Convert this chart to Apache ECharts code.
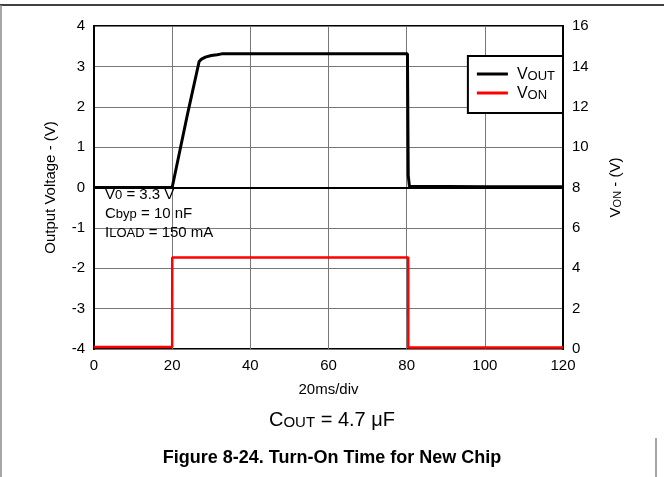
<!DOCTYPE html>
<html>
<head>
<meta charset="utf-8">
<script src="https://cdn.jsdelivr.net/npm/echarts@6/dist/echarts.min.js"></script>
<style>
html,body{margin:0;padding:0;background:#fff;}
#chart{width:664px;height:477px;}
</style>
</head>
<body>
<div id="chart"></div>
<script>
// ---- data ----
var voutTime = [0, 20, 20.2, 24.0, 26.9, 27.5, 28.5, 30, 31.5, 32.7, 50, 80.2, 80.4, 80.7, 100, 120];
var voutVals = [0, 0, 0, 1.85, 3.12, 3.18, 3.23, 3.27, 3.29, 3.31, 3.31, 3.31, 0.3, 0.03, 0.02, 0.02];
var vonTime = [0, 20, 20.02, 50, 80.4, 80.42, 100, 120];
var vonVals = [0.1, 0.1, 4.53, 4.53, 4.53, 0.08, 0.08, 0.08];
var xTicks = [0, 20, 40, 60, 80, 100, 120];
var leftTicks = [-4, -3, -2, -1, 0, 1, 2, 3, 4];
var rightTicks = [0, 2, 4, 6, 8, 10, 12, 14, 16];

var FONT = 'Liberation Sans, Arial, sans-serif';
function pairs(xs, ys){ return xs.map(function(x,i){ return [x, ys[i]]; }); }

var chart = echarts.init(document.getElementById('chart'), null, {renderer:'canvas'});
var option = {
  backgroundColor: '#fff',
  animation: false,
  textStyle: {fontFamily: FONT, color: '#000'},
  title: [
    {
      text: 'Figure 8-24. Turn-On Time for New Chip',
      left: 'center', top: 444,
      textStyle: {fontFamily: FONT, fontSize: 18, fontWeight: 'bold', color: '#000'}
    },
    {
      text: '{a|C}{s|OUT}{a| = 4.7 μF}',
      left: 'center', top: 399,
      textStyle: {
        fontFamily: FONT, fontWeight: 'normal', color: '#000',
        rich: {
          a: {fontFamily: FONT, fontSize: 20, color: '#000', verticalAlign: 'bottom', lineHeight: 26},
          s: {fontFamily: FONT, fontSize: 15, color: '#000', verticalAlign: 'bottom', lineHeight: 14}
        }
      }
    }
  ],
  grid: {left: 94, right: 101, top: 26, bottom: 128, show: true, borderColor: '#000', borderWidth: 2, backgroundColor: 'transparent'},
  legend: {
    orient: 'vertical', right: 101, top: 56,
    backgroundColor: '#fff', borderColor: '#000', borderWidth: 2,
    padding: [11, 8, 11, 9], itemGap: 3, itemWidth: 31, itemHeight: 3,
    data: [
      {name: 'VOUT', icon: 'rect', itemStyle: {color: '#000'}},
      {name: 'VON', icon: 'rect', itemStyle: {color: '#ff0000'}}
    ],
    formatter: function(name){ return name === 'VOUT' ? '{a|V}{s|OUT}' : '{a|V}{s|ON}'; },
    textStyle: {
      fontFamily: FONT, color: '#000',
      rich: {
        a: {fontFamily: FONT, fontSize: 16, color: '#000', verticalAlign: 'bottom', lineHeight: 18, padding: [0,0,0,4]},
        s: {fontFamily: FONT, fontSize: 13, color: '#000', verticalAlign: 'bottom', lineHeight: 10}
      }
    }
  },
  xAxis: {
    type: 'value', min: 0, max: 120, interval: 20,
    name: '20ms/div', nameLocation: 'middle', nameGap: 33,
    nameTextStyle: {fontFamily: FONT, fontSize: 15, color: '#000'},
    axisLine: {show: true, lineStyle: {color: '#000', width: 2}},
    axisTick: {show: false},
    axisLabel: {fontFamily: FONT, fontSize: 15, color: '#000', margin: 9,
      formatter: function(v){ return xTicks.indexOf(v) >= 0 ? String(v) : ''; }},
    splitLine: {show: true, lineStyle: {color: '#777', width: 1}}
  },
  yAxis: [
    {
      type: 'value', min: -4, max: 4, interval: 1, position: 'left',
      name: 'Output Voltage - (V)', nameLocation: 'middle', nameGap: 36, nameRotate: 90,
      nameTextStyle: {fontFamily: FONT, fontSize: 15, color: '#000'},
      axisLine: {show: true, lineStyle: {color: '#000', width: 2}},
      axisTick: {show: false},
      axisLabel: {fontFamily: FONT, fontSize: 15, color: '#000', margin: 9,
        formatter: function(v){ return leftTicks.indexOf(v) >= 0 ? String(v) : ''; }},
      splitLine: {show: true, lineStyle: {color: '#777', width: 1}}
    },
    {
      type: 'value', min: 0, max: 16, interval: 2, position: 'right',
      name: '{a|V}{s|ON}{a| - (V)}', nameLocation: 'middle', nameGap: 42, nameRotate: 90,
      nameTextStyle: {fontFamily: FONT, color: '#000',
        rich: {
          a: {fontFamily: FONT, fontSize: 15, color: '#000', verticalAlign: 'bottom', lineHeight: 18},
          s: {fontFamily: FONT, fontSize: 11, color: '#000', verticalAlign: 'bottom', lineHeight: 9}
        }},
      axisLine: {show: true, lineStyle: {color: '#000', width: 2}},
      axisTick: {show: false},
      axisLabel: {fontFamily: FONT, fontSize: 15, color: '#000', margin: 9,
        formatter: function(v){ return rightTicks.indexOf(v) >= 0 ? String(v) : ''; }},
      splitLine: {show: false}
    }
  ],
  series: [
    {
      name: 'VOUT', type: 'line', yAxisIndex: 0, showSymbol: false, symbol: 'none',
      data: pairs(voutTime, voutVals), lineStyle: {color: '#000', width: 3}, itemStyle: {color: '#000'}, z: 3
    },
    {
      name: 'VON', type: 'line', yAxisIndex: 1, showSymbol: false, symbol: 'none',
      data: pairs(vonTime, vonVals), lineStyle: {color: '#ff0000', width: 2.5}, itemStyle: {color: '#ff0000'}, z: 2
    }
  ],
  graphic: [
    {type: 'line', shape: {x1: 0, y1: 5, x2: 664, y2: 5}, style: {stroke: '#000', lineWidth: 1.5}},
    {type: 'line', shape: {x1: 1, y1: 5, x2: 1, y2: 477}, style: {stroke: '#888', lineWidth: 1.5}},
    {type: 'line', shape: {x1: 656, y1: 438, x2: 656, y2: 477}, style: {stroke: '#888', lineWidth: 1.5}},
    {
      type: 'text', left: 105, top: 187, z: 10,
      style: {
        text: '{a|V}{s|0}{a| = 3.3 V}\n{a|C}{s|byp}{a| = 10 nF}\n{a|I}{s|LOAD}{a| = 150 mA}',
        fill: '#000', font: '15px ' + FONT,
        rich: {
          a: {fontFamily: FONT, fontSize: 15, fill: '#000', color: '#000', verticalAlign: 'bottom', lineHeight: 19},
          s: {fontFamily: FONT, fontSize: 13, fill: '#000', color: '#000', verticalAlign: 'bottom', lineHeight: 10}
        }
      }
    }
  ]
};
chart.setOption(option);
</script>
</body>
</html>
